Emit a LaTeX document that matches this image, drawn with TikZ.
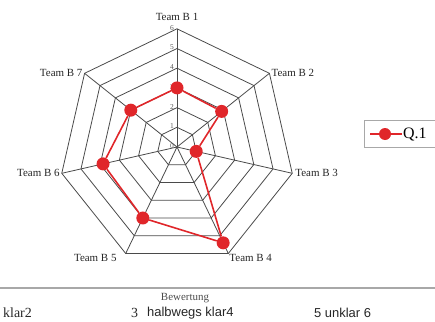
\documentclass[tikz,border=0pt]{standalone}
\usepackage{fontspec}
\setmainfont{Liberation Serif}
\setsansfont{Liberation Sans}
\usepackage{tikz}
\usetikzlibrary{positioning}
\definecolor{grid}{HTML}{4A4A4A}
\definecolor{muted}{HTML}{5A5A5A}
\definecolor{series}{HTML}{E0262A}
\definecolor{rule}{HTML}{A8A8A8}
\tikzset{
  web/.style={draw=grid, line width=0.8pt},
  ser/.style={draw=series, line width=1.6pt},
  pt/.style={circle, fill=series, inner sep=0pt, minimum size=13bp},
  team/.style={font=\fontsize{11}{13}\selectfont, text=black!85, inner sep=1bp},
  tick/.style={font=\fontsize{7.5}{8.5}\selectfont, text=muted, inner sep=0.5bp},
  legframe/.style={draw=rule, line width=0.8pt},
  axlab/.style={font=\fontsize{11}{13}\selectfont, text=black!70},
  ratelab/.style={font=\fontsize{14}{16}\selectfont, text=black!85, anchor=west, inner sep=0pt},
  ratesans/.style={ratelab, font=\sffamily\fontsize{13}{15}\selectfont}
}

\begin{document}
\begin{tikzpicture}[x=1bp,y=1bp]
  \useasboundingbox (0,0) rectangle (435,321);

  \begin{scope}[shift={(177,174)}]
    \coordinate (O) at (0,0);
    \foreach \k in {1,...,7}
      \coordinate (v\k) at ({90-(\k-1)*360/7}:118.2);

    % web rings and spokes
    \foreach \r in {1,...,6}
      \draw[web] (90:\r*19.7) \foreach \k in {1,...,6} { -- ({90-\k*360/7}:\r*19.7) } -- cycle;
    \foreach \k in {1,...,7}
      \draw[web] (O) -- (v\k);

    % scale on first axis
    \foreach \r in {0,...,6}
      \node[tick, anchor=east] (n\r) at (-2.5,\r*19.7+1) {\r};

    % data (mean ratings)
    \foreach \k/\v in {1/3,2/2.9,3/1,4/5.4,5/4,6/3.85,7/3}
      \node[pt] (p\k) at ({90-(\k-1)*360/7}:\v*19.7) {};
    \draw[ser] (p1) -- (p2) -- (p3) -- (p4) -- (p5) -- (p6) -- (p7) -- (p1);
  \end{scope}

  \node[team, above=7bp of v1] (t1) {Team B 1};
  \node[team, right=1bp of v2] (t2) {Team B 2};
  \node[team, right=2bp of v3] (t3) {Team B 3};
  \node[team, below right=0bp of v4] (t4) {Team B 4};
  \node[team, below left=0bp and 8bp of v5] (t5) {Team B 5};
  \node[team, left=1bp of v6] (t6) {Team B 6};
  \node[team, left=1bp of v7] (t7) {Team B 7};

  % legend
  \draw[legframe] (364,174) rectangle (450,201);
  \coordinate (la) at (370,187);
  \coordinate (lb) at (402,187);
  \draw[ser] (la) -- (lb);
  \node[pt, minimum size=12bp] (lm) at (385,187) {};
  \node[font=\fontsize{16}{18}\selectfont, anchor=west, inner sep=0pt] (lq) at (403,186) {Q.1};

  % axis below
  \coordinate (ra) at (0,33);
  \coordinate (rb) at (435,33);
  \draw[draw=rule, line width=1.8pt] (ra) -- (rb);
  \node[axlab] (bew) at (185,23) {Bewertung};
  \node[ratelab] (s1) at (3,8) {klar2};
  \node[ratelab] (s2) at (131,8) {3};
  \node[ratesans] (s3) at (147,8) {halbwegs klar4};
  \node[ratesans] (s4) at (314,8) {5 unklar 6};
\end{tikzpicture}
\end{document}
